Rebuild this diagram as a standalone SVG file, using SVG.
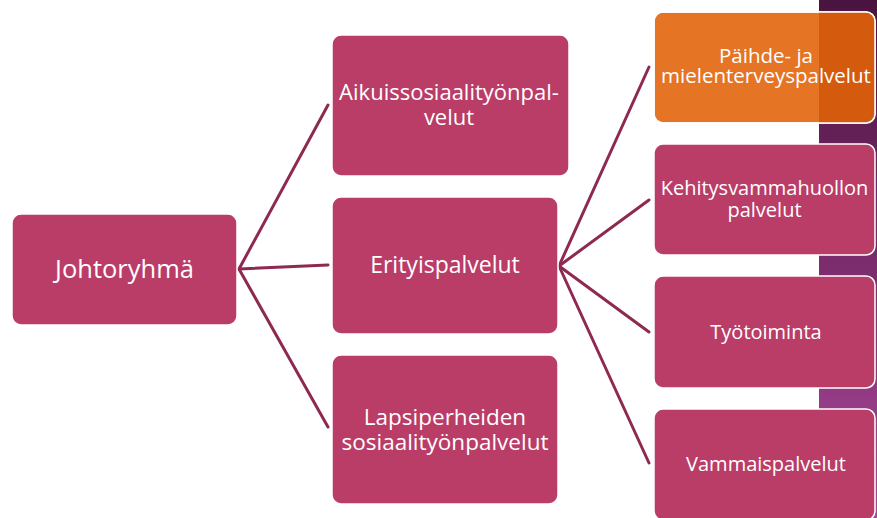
<svg xmlns="http://www.w3.org/2000/svg" width="877" height="518" viewBox="0 0 877 518">
<defs>
<linearGradient id="strip" x1="0" y1="0" x2="0" y2="1">
<stop offset="0" stop-color="#4a1440"/>
<stop offset="0.5" stop-color="#7a2c6c"/>
<stop offset="1" stop-color="#a8489a"/>
</linearGradient>
<clipPath id="orClip"><rect x="654" y="12" width="221" height="111" rx="9"/></clipPath>
<style>
.box{fill:#b93d67;stroke:#ffffff;stroke-width:1.5}
.org{fill:#e57424;stroke:#ffffff;stroke-width:1.5}
.t{fill:#ffffff;font-family:"Open Sans","DejaVu Sans",sans-serif;text-anchor:middle}
.c{stroke:#8e2a52;stroke-width:3;fill:none;stroke-linecap:round}
</style>
</defs>
<rect x="0" y="0" width="877" height="518" fill="#ffffff"/>
<rect x="819" y="0" width="58" height="518" fill="url(#strip)"/>
<g id="connectors">
<line class="c" x1="239" y1="269" x2="328" y2="105"/>
<line class="c" x1="239" y1="269" x2="328" y2="265"/>
<line class="c" x1="239" y1="269" x2="328" y2="427"/>
<line class="c" x1="559" y1="266" x2="649" y2="67"/>
<line class="c" x1="559" y1="266" x2="649" y2="200"/>
<line class="c" x1="559" y1="266" x2="649" y2="332"/>
<line class="c" x1="559" y1="266" x2="649" y2="463"/>
</g>
<g id="johtoryhma">
<rect class="box" x="12" y="214" width="225" height="111" rx="9"/>
<text class="t" x="124.5" y="278" font-size="25.5">Johtoryhmä</text>
</g>
<g id="aikuis">
<rect class="box" x="332" y="35" width="237" height="141" rx="9"/>
<text class="t" x="449" y="100" font-size="22">Aikuissosiaalityönpal-</text>
<text class="t" x="449" y="125" font-size="22">velut</text>
</g>
<g id="erityis">
<rect class="box" x="332" y="197" width="226" height="137" rx="9"/>
<text class="t" x="445" y="273" font-size="23">Erityispalvelut</text>
</g>
<g id="lapsi">
<rect class="box" x="332" y="355" width="226" height="149" rx="9"/>
<text class="t" x="445" y="425" font-size="22.5">Lapsiperheiden</text>
<text class="t" x="445" y="450" font-size="22.5">sosiaalityönpalvelut</text>
</g>
<g id="paihde">
<rect class="org" x="654" y="12" width="221" height="111" rx="9"/>
<rect x="819" y="0" width="58" height="130" fill="#d45a0e" clip-path="url(#orClip)"/>
<rect x="654" y="12" width="221" height="111" rx="9" fill="none" stroke="#ffffff" stroke-width="1.5"/>
<text class="t" x="766" y="63" font-size="20.5">Päihde- ja</text>
<text class="t" x="766" y="83" font-size="20.5">mielenterveyspalvelut</text>
</g>
<g id="kehitys">
<rect class="box" x="654" y="144" width="221" height="111" rx="9"/>
<text class="t" x="764.5" y="195" font-size="20">Kehitysvammahuollon</text>
<text class="t" x="764.5" y="217" font-size="20">palvelut</text>
</g>
<g id="tyotoiminta">
<rect class="box" x="654" y="276" width="221" height="112" rx="9"/>
<text class="t" x="766" y="339" font-size="20">Työtoiminta</text>
</g>
<g id="vammais">
<rect class="box" x="654" y="409" width="221" height="111" rx="9"/>
<text class="t" x="766" y="471" font-size="20">Vammaispalvelut</text>
</g>
</svg>
